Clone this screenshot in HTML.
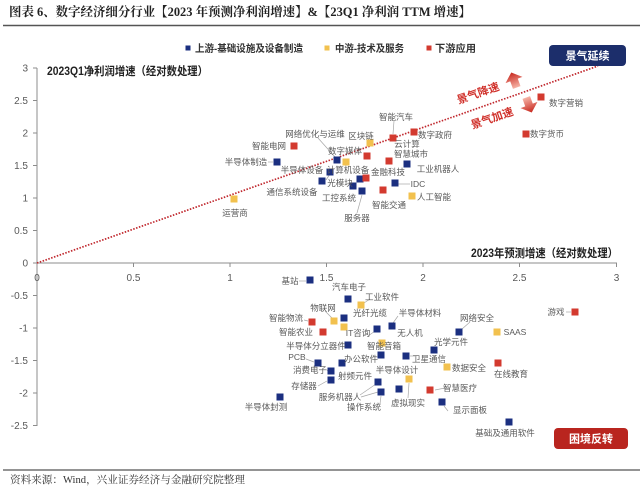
<!DOCTYPE html>
<html><head><meta charset="utf-8"><style>
html,body{margin:0;padding:0;background:#fff;}
svg{display:block;}
.t{font-family:"Liberation Sans","Noto Sans CJK SC",sans-serif;font-size:8.5px;fill:#595959;text-anchor:middle;}
.k{font-family:"Liberation Sans","Noto Sans CJK SC",sans-serif;font-size:10px;fill:#595959;}
.ld{stroke:#a6a6a6;stroke-width:0.7;fill:none;}
</style></head><body>
<svg width="640" height="488" viewBox="0 0 640 488" xmlns="http://www.w3.org/2000/svg">
<defs>
<linearGradient id="ga" x1="0" y1="0" x2="0" y2="1">
<stop offset="0" stop-color="#c8281e"/><stop offset="1" stop-color="#f6b3a6"/>
</linearGradient>
<linearGradient id="gb" x1="0" y1="0" x2="0" y2="1">
<stop offset="0" stop-color="#f6b3a6"/><stop offset="1" stop-color="#c8281e"/>
</linearGradient>
</defs>
<!-- title -->
<text x="9" y="16" textLength="462" lengthAdjust="spacingAndGlyphs" style="font-family:'Liberation Serif','Noto Serif CJK SC',serif;font-weight:bold;font-size:12.5px;fill:#222;">图表 6、数字经济细分行业【2023 年预测净利润增速】&amp;【23Q1 净利润 TTM 增速】</text>
<line x1="3" y1="25.5" x2="640" y2="25.5" stroke="#555" stroke-width="1.5"/>

<!-- legend -->
<rect x="185.5" y="45.5" width="5" height="5" fill="#1b2f80"/>
<text x="195" y="52" textLength="108" lengthAdjust="spacingAndGlyphs" style="font-family:'Liberation Sans','Noto Sans CJK SC',sans-serif;font-weight:bold;font-size:10px;fill:#333;">上游-基础设施及设备制造</text>
<rect x="324.5" y="45.5" width="5" height="5" fill="#f2c14e"/>
<text x="335" y="52" textLength="69" lengthAdjust="spacingAndGlyphs" style="font-family:'Liberation Sans','Noto Sans CJK SC',sans-serif;font-weight:bold;font-size:10px;fill:#333;">中游-技术及服务</text>
<rect x="426.5" y="45.5" width="5" height="5" fill="#d33a2f"/>
<text x="435" y="52" textLength="41" lengthAdjust="spacingAndGlyphs" style="font-family:'Liberation Sans','Noto Sans CJK SC',sans-serif;font-weight:bold;font-size:10px;fill:#333;">下游应用</text>

<!-- axes -->
<g stroke="#8c8c8c" stroke-width="1">
<line x1="37" y1="68" x2="37" y2="426"/>
<line x1="37" y1="263" x2="617" y2="263"/>
<line x1="33" y1="68" x2="37" y2="68"/>
<line x1="33" y1="100.5" x2="37" y2="100.5"/>
<line x1="33" y1="133" x2="37" y2="133"/>
<line x1="33" y1="165.5" x2="37" y2="165.5"/>
<line x1="33" y1="198" x2="37" y2="198"/>
<line x1="33" y1="230.5" x2="37" y2="230.5"/>
<line x1="33" y1="263" x2="37" y2="263"/>
<line x1="33" y1="295.5" x2="37" y2="295.5"/>
<line x1="33" y1="328" x2="37" y2="328"/>
<line x1="33" y1="360.5" x2="37" y2="360.5"/>
<line x1="33" y1="393" x2="37" y2="393"/>
<line x1="33" y1="425.5" x2="37" y2="425.5"/>
<line x1="133.5" y1="263" x2="133.5" y2="267"/>
<line x1="230" y1="263" x2="230" y2="267"/>
<line x1="326.5" y1="263" x2="326.5" y2="267"/>
<line x1="423" y1="263" x2="423" y2="267"/>
<line x1="519.5" y1="263" x2="519.5" y2="267"/>
<line x1="616.5" y1="263" x2="616.5" y2="267"/>
</g>
<g class="k" text-anchor="end">
<text x="28" y="71.5">3</text>
<text x="28" y="104">2.5</text>
<text x="28" y="136.5">2</text>
<text x="28" y="169">1.5</text>
<text x="28" y="201.5">1</text>
<text x="28" y="234">0.5</text>
<text x="28" y="266.5">0</text>
<text x="28" y="299">-0.5</text>
<text x="28" y="331.5">-1</text>
<text x="28" y="364">-1.5</text>
<text x="28" y="396.5">-2</text>
<text x="28" y="429">-2.5</text>
</g>
<g class="k" text-anchor="middle">
<text x="37" y="281">0</text>
<text x="133.5" y="281">0.5</text>
<text x="230" y="281">1</text>
<text x="326.5" y="281">1.5</text>
<text x="423" y="281">2</text>
<text x="519.5" y="281">2.5</text>
<text x="616.5" y="281">3</text>
</g>
<text x="47" y="75" textLength="161" lengthAdjust="spacingAndGlyphs" style="font-family:'Liberation Sans','Noto Sans CJK SC',sans-serif;font-weight:bold;font-size:11.5px;fill:#222;">2023Q1净利润增速（经对数处理）</text>
<text x="471" y="257" textLength="147" lengthAdjust="spacingAndGlyphs" style="font-family:'Liberation Sans','Noto Sans CJK SC',sans-serif;font-weight:bold;font-size:11.5px;fill:#222;">2023年预测增速（经对数处理）</text>

<!-- diagonal -->
<line x1="37" y1="263" x2="598" y2="66" stroke="#c0272d" stroke-width="1.7" stroke-dasharray="1.5 1.5"/>

<!-- arrows -->
<g transform="translate(514,80) rotate(-20)">
<polygon points="0,-8 9,0 4,0 4,8 -4,8 -4,0 -9,0" fill="url(#ga)"/>
</g>
<g transform="translate(529,105) rotate(-20)">
<polygon points="0,8 9,0 4,0 4,-8 -4,-8 -4,0 -9,0" fill="url(#gb)"/>
</g>
<g style="font-family:'Liberation Sans','Noto Sans CJK SC',sans-serif;font-weight:bold;font-size:11px;fill:#d0302a;" text-anchor="middle">
<text x="478" y="97" transform="rotate(-19 478 93)">景气降速</text>
<text x="492" y="122" transform="rotate(-19 492 118)">景气加速</text>
</g>

<!-- boxes -->
<rect x="549" y="45" width="77" height="21" rx="4" fill="#1c2e6b"/>
<text x="587.5" y="59.5" text-anchor="middle" style="font-family:'Liberation Sans','Noto Sans CJK SC',sans-serif;font-weight:bold;font-size:11px;fill:#fff;">景气延续</text>
<rect x="554" y="428" width="74" height="21" rx="4" fill="#b9251f"/>
<text x="591" y="442.5" text-anchor="middle" style="font-family:'Liberation Sans','Noto Sans CJK SC',sans-serif;font-weight:bold;font-size:11px;fill:#fff;">困境反转</text>

<!-- leader lines -->
<g class="ld">
<path d="M318,138 L335,157"/>
<path d="M268,162 L273,162"/>
<path d="M394,121 L393,134"/>
<path d="M357,213 L362,195"/>
<path d="M330,174 L326,180"/>
<path d="M352,187 L353,186"/>
<path d="M398,184 L410,184"/>
<path d="M299,281 L306,281"/>
<path d="M370,299 L364,303"/>
<path d="M325,311 L332,318"/>
<path d="M304,320 L308,321"/>
<path d="M398,316 L393,323"/>
<path d="M368,336 L378,329"/>
<path d="M306,359 L314,362"/>
<path d="M327,370 L328,371"/>
<path d="M318,386 L327,381"/>
<path d="M360,395 L376,384"/>
<path d="M361,397 L378,392"/>
<path d="M380,404 L381,396"/>
<path d="M408,398 L409,383"/>
<path d="M566,312 L571,312"/>
<path d="M470,322 L462,329"/>
<path d="M448,411 L444,406"/>
<path d="M445,388 L435,390"/>
<path d="M415,356 L410,356"/>
</g>

<!-- points -->
<g fill="#1b2f80">
<rect x="273.5" y="158.5" width="7" height="7"/>
<rect x="333.5" y="156.5" width="7" height="7"/>
<rect x="326.5" y="168.5" width="7" height="7"/>
<rect x="318.5" y="177.5" width="7" height="7"/>
<rect x="349.5" y="182.5" width="7" height="7"/>
<rect x="356.5" y="175.5" width="7" height="7"/>
<rect x="358.5" y="187.5" width="7" height="7"/>
<rect x="391.5" y="179.5" width="7" height="7"/>
<rect x="403.5" y="160.5" width="7" height="7"/>
<rect x="306.5" y="276.5" width="7" height="7"/>
<rect x="344.5" y="295.5" width="7" height="7"/>
<rect x="340.5" y="314.5" width="7" height="7"/>
<rect x="388.5" y="322.5" width="7" height="7"/>
<rect x="373.5" y="325.5" width="7" height="7"/>
<rect x="344.5" y="341.5" width="7" height="7"/>
<rect x="377.5" y="351.5" width="7" height="7"/>
<rect x="402.5" y="352.5" width="7" height="7"/>
<rect x="314.5" y="359.5" width="7" height="7"/>
<rect x="338.5" y="359.5" width="7" height="7"/>
<rect x="327.5" y="367.5" width="7" height="7"/>
<rect x="327.5" y="376.5" width="7" height="7"/>
<rect x="374.5" y="378.5" width="7" height="7"/>
<rect x="377.5" y="388.5" width="7" height="7"/>
<rect x="395.5" y="385.5" width="7" height="7"/>
<rect x="276.5" y="393.5" width="7" height="7"/>
<rect x="430.5" y="346.5" width="7" height="7"/>
<rect x="438.5" y="398.5" width="7" height="7"/>
<rect x="455.5" y="328.5" width="7" height="7"/>
<rect x="505.5" y="418.5" width="7" height="7"/>
</g>
<g fill="#f2c14e">
<rect x="230.5" y="195.5" width="7" height="7"/>
<rect x="366.5" y="139.5" width="7" height="7"/>
<rect x="342.5" y="158.5" width="7" height="7"/>
<rect x="408.5" y="192.5" width="7" height="7"/>
<rect x="357.5" y="301.5" width="7" height="7"/>
<rect x="330.5" y="317.5" width="7" height="7"/>
<rect x="340.5" y="323.5" width="7" height="7"/>
<rect x="378.5" y="339.5" width="7" height="7"/>
<rect x="405.5" y="375.5" width="7" height="7"/>
<rect x="443.5" y="363.5" width="7" height="7"/>
<rect x="493.5" y="328.5" width="7" height="7"/>
</g>
<g fill="#d33a2f">
<rect x="290.5" y="142.5" width="7" height="7"/>
<rect x="389.5" y="134.5" width="7" height="7"/>
<rect x="410.5" y="128.5" width="7" height="7"/>
<rect x="363.5" y="152.5" width="7" height="7"/>
<rect x="385.5" y="157.5" width="7" height="7"/>
<rect x="362.5" y="174.5" width="7" height="7"/>
<rect x="379.5" y="186.5" width="7" height="7"/>
<rect x="537.5" y="93.5" width="7" height="7"/>
<rect x="522.5" y="130.5" width="7" height="7"/>
<rect x="308.5" y="318.5" width="7" height="7"/>
<rect x="319.5" y="328.5" width="7" height="7"/>
<rect x="426.5" y="386.5" width="7" height="7"/>
<rect x="494.5" y="359.5" width="7" height="7"/>
<rect x="571.5" y="308.5" width="7" height="7"/>
</g>

<!-- labels upper -->
<g class="t">
<text x="235" y="216">运营商</text>
<text x="269" y="149">智能电网</text>
<text x="315" y="137">网络优化与运维</text>
<text x="345" y="154">数字媒体</text>
<text x="361" y="139">区块链</text>
<text x="396" y="120">智能汽车</text>
<text x="435" y="138">数字政府</text>
<text x="407" y="147">云计算</text>
<text x="411" y="157">智慧城市</text>
<text x="246" y="165">半导体制造</text>
<text x="438" y="172">工业机器人</text>
<text x="302" y="173">半导体设备</text>
<text x="348" y="173">计算机设备</text>
<text x="388" y="175">金融科技</text>
<text x="292" y="195">通信系统设备</text>
<text x="340" y="186">光模块</text>
<text x="418" y="187">IDC</text>
<text x="339" y="201">工控系统</text>
<text x="389" y="208">智能交通</text>
<text x="434" y="200">人工智能</text>
<text x="357" y="221">服务器</text>
<text x="566" y="106">数字营销</text>
<text x="547" y="137">数字货币</text>
</g>
<!-- labels lower -->
<g class="t">
<text x="290" y="284">基站</text>
<text x="349" y="290">汽车电子</text>
<text x="382" y="300">工业软件</text>
<text x="323" y="311">物联网</text>
<text x="286" y="321">智能物流</text>
<text x="370" y="316">光纤光缆</text>
<text x="420" y="316">半导体材料</text>
<text x="296" y="335">智能农业</text>
<text x="410" y="336">无人机</text>
<text x="358" y="336">IT咨询</text>
<text x="316" y="349">半导体分立器件</text>
<text x="384" y="349">智能音箱</text>
<text x="451" y="345">光学元件</text>
<text x="297" y="360">PCB</text>
<text x="361" y="362">办公软件</text>
<text x="310" y="373">消费电子</text>
<text x="355" y="379">射频元件</text>
<text x="397" y="373">半导体设计</text>
<text x="304" y="389">存储器</text>
<text x="340" y="400">服务机器人</text>
<text x="364" y="410">操作系统</text>
<text x="408" y="406">虚拟现实</text>
<text x="266" y="410">半导体封测</text>
<text x="556" y="315">游戏</text>
<text x="477" y="321">网络安全</text>
<text x="515" y="335">SAAS</text>
<text x="429" y="362">卫星通信</text>
<text x="469" y="371">数据安全</text>
<text x="511" y="377">在线教育</text>
<text x="460" y="391">智慧医疗</text>
<text x="470" y="413">显示面板</text>
<text x="505" y="436">基础及通用软件</text>
</g>

<!-- footer -->
<line x1="3" y1="470" x2="640" y2="470" stroke="#555" stroke-width="1.2"/>
<text x="10" y="483" textLength="235" lengthAdjust="spacingAndGlyphs" style="font-family:'Liberation Serif','Noto Serif CJK SC',serif;font-size:10.5px;fill:#333;">资料来源：Wind，兴业证券经济与金融研究院整理</text>
</svg>
</body></html>
